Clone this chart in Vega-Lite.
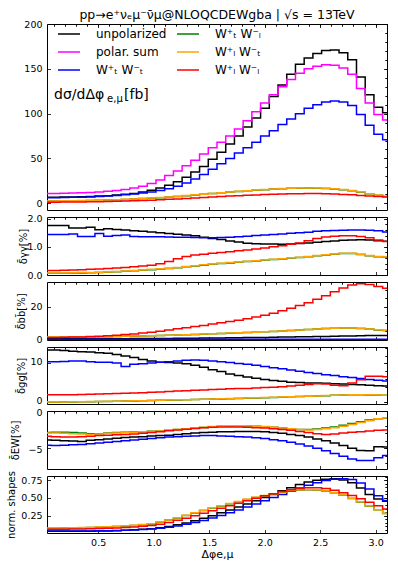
{
"$schema": "https://vega.github.io/schema/vega-lite/v6.json",
"padding": {"left": 5, "top": 8, "right": 10, "bottom": 5},
"spacing": 7,
"bounds": "flush",
"resolve": {"scale": {"color": "independent"}},
"config": {
  "font": "DejaVu Sans",
  "view": {"stroke": "#000", "strokeWidth": 1},
  "axis": {"domain": false, "grid": false, "tickColor": "#000", "tickWidth": 0.8, "labelColor": "#000", "labelFont": "DejaVu Sans", "labelFontSize": 9.5, "labelFlush": false, "labelOverlap": false, "titleFont": "DejaVu Sans", "titleFontSize": 10, "titleFontWeight": "normal", "titleColor": "#000", "labelPadding": 8.5},
  "line": {"interpolate": "step", "strokeWidth": 1.5, "clip": true}
},
"datasets": {
"m": [
{"x":0.0393,"a":6.7,"b":10.9,"c":6.2,"d":2.4,"e":2.5,"f":1.2},
{"x":0.1178,"a":6.8,"b":11.0,"c":6.3,"d":2.5,"e":2.6,"f":1.2},
{"x":0.1963,"a":6.9,"b":11.2,"c":6.4,"d":2.6,"e":2.7,"f":1.3},
{"x":0.2749,"a":7.1,"b":11.4,"c":6.6,"d":2.7,"e":2.8,"f":1.4},
{"x":0.3534,"a":7.3,"b":11.7,"c":6.8,"d":2.9,"e":3.0,"f":1.5},
{"x":0.4320,"a":7.6,"b":12.1,"c":7.1,"d":3.1,"e":3.2,"f":1.6},
{"x":0.5105,"a":8.0,"b":12.7,"c":7.5,"d":3.3,"e":3.4,"f":1.8},
{"x":0.5890,"a":8.5,"b":13.4,"c":8.0,"d":3.6,"e":3.7,"f":2.0},
{"x":0.6676,"a":9.2,"b":14.3,"c":8.6,"d":3.9,"e":4.0,"f":2.2},
{"x":0.7461,"a":10.0,"b":15.5,"c":9.4,"d":4.3,"e":4.4,"f":2.5},
{"x":0.8247,"a":11.0,"b":17.0,"c":10.3,"d":4.7,"e":4.8,"f":2.8},
{"x":0.9032,"a":12.5,"b":19.0,"c":11.4,"d":5.2,"e":5.3,"f":3.1},
{"x":0.9817,"a":14.5,"b":22.0,"c":12.7,"d":5.7,"e":5.8,"f":3.5},
{"x":1.0603,"a":17.0,"b":26.0,"c":14.3,"d":6.3,"e":6.4,"f":3.9},
{"x":1.1388,"a":20.0,"b":31.0,"c":16.3,"d":7.0,"e":7.1,"f":4.4},
{"x":1.2174,"a":24.0,"b":36.0,"c":19.0,"d":7.7,"e":7.8,"f":4.9},
{"x":1.2959,"a":29.0,"b":42.0,"c":22.5,"d":8.5,"e":8.6,"f":5.4},
{"x":1.3744,"a":35.0,"b":48.0,"c":27.0,"d":9.3,"e":9.4,"f":5.9},
{"x":1.4530,"a":41.0,"b":55.0,"c":32.0,"d":10.1,"e":10.2,"f":6.5},
{"x":1.5315,"a":49.0,"b":62.0,"c":38.0,"d":10.9,"e":11.0,"f":7.0},
{"x":1.6101,"a":57,"b":68,"c":44,"d":11.7,"e":11.8,"f":7.5},
{"x":1.6886,"a":66,"b":75,"c":50,"d":12.5,"e":12.6,"f":8.0},
{"x":1.7671,"a":75,"b":83,"c":56,"d":13.2,"e":13.3,"f":8.5},
{"x":1.8457,"a":85,"b":92,"c":62,"d":13.9,"e":14.0,"f":8.9},
{"x":1.9242,"a":95,"b":102,"c":68,"d":14.6,"e":14.7,"f":9.3},
{"x":2.0028,"a":106,"b":112,"c":75,"d":15.2,"e":15.3,"f":9.7},
{"x":2.0813,"a":119,"b":121,"c":81,"d":15.8,"e":15.9,"f":10.0},
{"x":2.1598,"a":132,"b":130,"c":88,"d":16.3,"e":16.4,"f":10.3},
{"x":2.2384,"a":144,"b":138,"c":94,"d":16.7,"e":16.8,"f":10.5},
{"x":2.3169,"a":155,"b":145,"c":100,"d":16.9,"e":17.0,"f":10.7},
{"x":2.3955,"a":162,"b":150,"c":106,"d":17.0,"e":17.1,"f":10.8},
{"x":2.4740,"a":167,"b":153,"c":110,"d":16.9,"e":17.0,"f":10.8},
{"x":2.5525,"a":170.5,"b":154.5,"c":113,"d":16.6,"e":16.7,"f":10.6},
{"x":2.6311,"a":171,"b":154,"c":114,"d":16.0,"e":16.1,"f":10.3},
{"x":2.7096,"a":168,"b":151,"c":113,"d":15.2,"e":15.3,"f":9.9},
{"x":2.7882,"a":160,"b":144,"c":109,"d":14.1,"e":14.2,"f":9.4},
{"x":2.8667,"a":141,"b":128,"c":99,"d":12.7,"e":12.8,"f":8.8},
{"x":2.9452,"a":121,"b":112,"c":87,"d":10.5,"e":10.6,"f":8.1},
{"x":3.0238,"a":107,"b":99,"c":77,"d":8.9,"e":9.0,"f":7.5},
{"x":3.1023,"a":101,"b":93,"c":71,"d":7.7,"e":7.8,"f":7.0}
],
"g": [
{"x":0.0393,"a":1.76,"c":1.44,"d":0.06,"e":0.07,"f":0.16},
{"x":0.1178,"a":1.76,"c":1.44,"d":0.06,"e":0.07,"f":0.16},
{"x":0.1963,"a":1.76,"c":1.44,"d":0.065,"e":0.075,"f":0.17},
{"x":0.2749,"a":1.67,"c":1.46,"d":0.07,"e":0.08,"f":0.18},
{"x":0.3534,"a":1.67,"c":1.37,"d":0.075,"e":0.085,"f":0.19},
{"x":0.4320,"a":1.70,"c":1.37,"d":0.08,"e":0.09,"f":0.20},
{"x":0.5105,"a":1.61,"c":1.47,"d":0.09,"e":0.10,"f":0.21},
{"x":0.5890,"a":1.64,"c":1.38,"d":0.10,"e":0.11,"f":0.23},
{"x":0.6676,"a":1.62,"c":1.40,"d":0.115,"e":0.125,"f":0.25},
{"x":0.7461,"a":1.60,"c":1.42,"d":0.13,"e":0.14,"f":0.27},
{"x":0.8247,"a":1.57,"c":1.37,"d":0.15,"e":0.16,"f":0.29},
{"x":0.9032,"a":1.55,"c":1.36,"d":0.17,"e":0.18,"f":0.32},
{"x":0.9817,"a":1.53,"c":1.36,"d":0.19,"e":0.20,"f":0.35},
{"x":1.0603,"a":1.50,"c":1.36,"d":0.21,"e":0.22,"f":0.40},
{"x":1.1388,"a":1.47,"c":1.35,"d":0.23,"e":0.24,"f":0.48},
{"x":1.2174,"a":1.45,"c":1.34,"d":0.26,"e":0.27,"f":0.58},
{"x":1.2959,"a":1.42,"c":1.34,"d":0.29,"e":0.30,"f":0.66},
{"x":1.3744,"a":1.39,"c":1.33,"d":0.32,"e":0.33,"f":0.71},
{"x":1.4530,"a":1.34,"c":1.32,"d":0.35,"e":0.36,"f":0.74},
{"x":1.5315,"a":1.30,"c":1.32,"d":0.38,"e":0.39,"f":0.77},
{"x":1.6101,"a":1.26,"c":1.33,"d":0.41,"e":0.42,"f":0.80},
{"x":1.6886,"a":1.21,"c":1.34,"d":0.43,"e":0.44,"f":0.83},
{"x":1.7671,"a":1.17,"c":1.36,"d":0.45,"e":0.46,"f":0.86},
{"x":1.8457,"a":1.13,"c":1.38,"d":0.48,"e":0.49,"f":0.89},
{"x":1.9242,"a":1.11,"c":1.40,"d":0.50,"e":0.51,"f":0.92},
{"x":2.0028,"a":1.10,"c":1.42,"d":0.53,"e":0.54,"f":0.96},
{"x":2.0813,"a":1.10,"c":1.44,"d":0.55,"e":0.56,"f":1.00},
{"x":2.1598,"a":1.09,"c":1.46,"d":0.57,"e":0.58,"f":1.04},
{"x":2.2384,"a":1.10,"c":1.48,"d":0.60,"e":0.61,"f":1.09},
{"x":2.3169,"a":1.12,"c":1.50,"d":0.62,"e":0.63,"f":1.14},
{"x":2.3955,"a":1.14,"c":1.52,"d":0.65,"e":0.66,"f":1.22},
{"x":2.4740,"a":1.16,"c":1.55,"d":0.68,"e":0.69,"f":1.30},
{"x":2.5525,"a":1.19,"c":1.57,"d":0.71,"e":0.72,"f":1.35},
{"x":2.6311,"a":1.21,"c":1.58,"d":0.74,"e":0.75,"f":1.38},
{"x":2.7096,"a":1.23,"c":1.59,"d":0.76,"e":0.77,"f":1.39},
{"x":2.7882,"a":1.24,"c":1.60,"d":0.76,"e":0.77,"f":1.39},
{"x":2.8667,"a":1.25,"c":1.60,"d":0.73,"e":0.74,"f":1.37},
{"x":2.9452,"a":1.24,"c":1.59,"d":0.68,"e":0.69,"f":1.32},
{"x":3.0238,"a":1.22,"c":1.57,"d":0.65,"e":0.66,"f":1.24},
{"x":3.1023,"a":1.20,"c":1.53,"d":0.63,"e":0.64,"f":1.19}
],
"bb": [
{"x":0.0393,"a":0.3,"c":0.12,"d":1.35,"e":1.4,"f":1.2},
{"x":0.1178,"a":0.3,"c":0.12,"d":1.35,"e":1.4,"f":1.2},
{"x":0.1963,"a":0.31,"c":0.12,"d":1.35,"e":1.4,"f":1.3},
{"x":0.2749,"a":0.32,"c":0.12,"d":1.4,"e":1.45,"f":1.4},
{"x":0.3534,"a":0.33,"c":0.12,"d":1.45,"e":1.5,"f":1.5},
{"x":0.4320,"a":0.35,"c":0.11,"d":1.5,"e":1.55,"f":1.7},
{"x":0.5105,"a":0.37,"c":0.11,"d":1.55,"e":1.6,"f":1.9},
{"x":0.5890,"a":0.39,"c":0.11,"d":1.65,"e":1.7,"f":2.2},
{"x":0.6676,"a":0.41,"c":0.11,"d":1.75,"e":1.8,"f":2.5},
{"x":0.7461,"a":0.43,"c":0.11,"d":1.85,"e":1.9,"f":2.9},
{"x":0.8247,"a":0.45,"c":0.1,"d":1.95,"e":2.0,"f":3.3},
{"x":0.9032,"a":0.48,"c":0.1,"d":2.05,"e":2.1,"f":3.8},
{"x":0.9817,"a":0.51,"c":0.1,"d":2.2,"e":2.25,"f":4.4},
{"x":1.0603,"a":0.54,"c":0.1,"d":2.35,"e":2.4,"f":5.0},
{"x":1.1388,"a":0.57,"c":0.1,"d":2.5,"e":2.55,"f":5.7},
{"x":1.2174,"a":0.6,"c":0.09,"d":2.65,"e":2.7,"f":6.4},
{"x":1.2959,"a":0.65,"c":0.09,"d":2.8,"e":2.85,"f":7.1},
{"x":1.3744,"a":0.7,"c":0.09,"d":2.95,"e":3.0,"f":7.8},
{"x":1.4530,"a":0.75,"c":0.09,"d":3.15,"e":3.2,"f":8.5},
{"x":1.5315,"a":0.8,"c":0.09,"d":3.35,"e":3.4,"f":9.3},
{"x":1.6101,"a":0.85,"c":0.08,"d":3.55,"e":3.6,"f":10.1},
{"x":1.6886,"a":0.92,"c":0.08,"d":3.75,"e":3.8,"f":10.9},
{"x":1.7671,"a":0.99,"c":0.08,"d":3.95,"e":4.0,"f":11.7},
{"x":1.8457,"a":1.06,"c":0.08,"d":4.15,"e":4.2,"f":12.6},
{"x":1.9242,"a":1.13,"c":0.08,"d":4.35,"e":4.4,"f":13.6},
{"x":2.0028,"a":1.2,"c":0.07,"d":4.6,"e":4.65,"f":14.7},
{"x":2.0813,"a":1.28,"c":0.07,"d":4.85,"e":4.9,"f":16.0},
{"x":2.1598,"a":1.36,"c":0.07,"d":5.1,"e":5.15,"f":17.4},
{"x":2.2384,"a":1.44,"c":0.07,"d":5.35,"e":5.4,"f":19.0},
{"x":2.3169,"a":1.52,"c":0.07,"d":5.65,"e":5.7,"f":20.6},
{"x":2.3955,"a":1.6,"c":0.06,"d":5.95,"e":6.0,"f":22.4},
{"x":2.4740,"a":1.7,"c":0.06,"d":6.25,"e":6.3,"f":24.4},
{"x":2.5525,"a":1.8,"c":0.06,"d":6.55,"e":6.6,"f":26.6},
{"x":2.6311,"a":1.9,"c":0.06,"d":6.75,"e":6.8,"f":29.0},
{"x":2.7096,"a":2.0,"c":0.06,"d":6.85,"e":6.9,"f":31.3},
{"x":2.7882,"a":2.1,"c":0.05,"d":6.85,"e":6.9,"f":33.2},
{"x":2.8667,"a":2.2,"c":0.05,"d":6.65,"e":6.7,"f":34.0},
{"x":2.9452,"a":2.3,"c":0.05,"d":6.25,"e":6.3,"f":33.5},
{"x":3.0238,"a":2.35,"c":0.05,"d":5.75,"e":5.8,"f":32.2},
{"x":3.1023,"a":2.4,"c":0.05,"d":5.45,"e":5.5,"f":31.2}
],
"q": [
{"x":0.0393,"a":13.4,"c":10.4,"d":0.07,"e":0.1,"f":2.0},
{"x":0.1178,"a":13.4,"c":10.4,"d":0.07,"e":0.1,"f":2.0},
{"x":0.1963,"a":13.3,"c":10.5,"d":0.09,"e":0.12,"f":2.0},
{"x":0.2749,"a":13.1,"c":10.6,"d":0.12,"e":0.15,"f":2.0},
{"x":0.3534,"a":13.0,"c":10.6,"d":0.15,"e":0.18,"f":2.05},
{"x":0.4320,"a":12.9,"c":10.4,"d":0.18,"e":0.21,"f":2.1},
{"x":0.5105,"a":12.7,"c":10.3,"d":0.22,"e":0.25,"f":2.15},
{"x":0.5890,"a":12.6,"c":10.3,"d":0.26,"e":0.29,"f":2.2},
{"x":0.6676,"a":12.3,"c":10.1,"d":0.3,"e":0.33,"f":2.3},
{"x":0.7461,"a":11.9,"c":9.2,"d":0.34,"e":0.37,"f":2.35},
{"x":0.8247,"a":11.5,"c":9.8,"d":0.38,"e":0.41,"f":2.4},
{"x":0.9032,"a":11.0,"c":9.9,"d":0.43,"e":0.46,"f":2.5},
{"x":0.9817,"a":10.6,"c":10.1,"d":0.48,"e":0.51,"f":2.6},
{"x":1.0603,"a":10.3,"c":10.3,"d":0.53,"e":0.56,"f":2.7},
{"x":1.1388,"a":10.2,"c":10.4,"d":0.58,"e":0.61,"f":2.8},
{"x":1.2174,"a":10.1,"c":10.6,"d":0.63,"e":0.66,"f":2.9},
{"x":1.2959,"a":9.9,"c":10.8,"d":0.68,"e":0.71,"f":3.0},
{"x":1.3744,"a":9.5,"c":10.9,"d":0.74,"e":0.77,"f":3.1},
{"x":1.4530,"a":9.0,"c":10.8,"d":0.79,"e":0.82,"f":3.2},
{"x":1.5315,"a":8.4,"c":10.6,"d":0.85,"e":0.88,"f":3.3},
{"x":1.6101,"a":7.9,"c":10.4,"d":0.91,"e":0.94,"f":3.4},
{"x":1.6886,"a":7.3,"c":10.2,"d":0.97,"e":1.0,"f":3.5},
{"x":1.7671,"a":6.9,"c":10.0,"d":1.03,"e":1.06,"f":3.55},
{"x":1.8457,"a":6.5,"c":9.8,"d":1.09,"e":1.12,"f":3.6},
{"x":1.9242,"a":6.2,"c":9.5,"d":1.15,"e":1.18,"f":3.7},
{"x":2.0028,"a":5.9,"c":9.2,"d":1.22,"e":1.25,"f":3.8},
{"x":2.0813,"a":5.6,"c":8.9,"d":1.29,"e":1.32,"f":3.9},
{"x":2.1598,"a":5.4,"c":8.6,"d":1.36,"e":1.39,"f":4.0},
{"x":2.2384,"a":5.2,"c":8.3,"d":1.43,"e":1.46,"f":4.2},
{"x":2.3169,"a":5.1,"c":8.0,"d":1.5,"e":1.53,"f":4.4},
{"x":2.3955,"a":5.0,"c":7.7,"d":1.57,"e":1.6,"f":4.6},
{"x":2.4740,"a":4.95,"c":7.4,"d":1.65,"e":1.68,"f":4.8},
{"x":2.5525,"a":4.9,"c":7.1,"d":1.73,"e":1.76,"f":4.7},
{"x":2.6311,"a":4.8,"c":6.9,"d":1.81,"e":1.84,"f":4.4},
{"x":2.7096,"a":4.7,"c":6.6,"d":1.89,"e":1.92,"f":4.3},
{"x":2.7882,"a":4.6,"c":6.4,"d":1.97,"e":2.0,"f":5.0},
{"x":2.8667,"a":4.5,"c":6.1,"d":1.97,"e":2.0,"f":5.8},
{"x":2.9452,"a":4.4,"c":5.9,"d":1.92,"e":1.95,"f":6.7},
{"x":3.0238,"a":4.3,"c":5.7,"d":1.87,"e":1.9,"f":6.7},
{"x":3.1023,"a":4.2,"c":5.5,"d":1.82,"e":1.85,"f":6.6}
],
"w": [
{"x":0.0393,"a":-3.9,"c":-4.6,"d":-2.9,"e":-2.95,"f":-3.4},
{"x":0.1178,"a":-3.95,"c":-4.65,"d":-2.85,"e":-2.95,"f":-3.45},
{"x":0.1963,"a":-4.0,"c":-4.6,"d":-2.85,"e":-3.0,"f":-3.5},
{"x":0.2749,"a":-4.05,"c":-4.55,"d":-2.9,"e":-3.05,"f":-3.5},
{"x":0.3534,"a":-4.1,"c":-4.5,"d":-2.95,"e":-3.1,"f":-3.45},
{"x":0.4320,"a":-3.95,"c":-4.4,"d":-3.05,"e":-3.15,"f":-3.4},
{"x":0.5105,"a":-3.85,"c":-4.3,"d":-3.05,"e":-3.1,"f":-3.3},
{"x":0.5890,"a":-3.75,"c":-4.2,"d":-2.95,"e":-3.0,"f":-3.25},
{"x":0.6676,"a":-3.65,"c":-4.1,"d":-2.9,"e":-2.95,"f":-3.2},
{"x":0.7461,"a":-3.55,"c":-4.0,"d":-2.85,"e":-2.9,"f":-3.15},
{"x":0.8247,"a":-3.5,"c":-3.9,"d":-2.82,"e":-2.85,"f":-3.1},
{"x":0.9032,"a":-3.45,"c":-3.8,"d":-2.78,"e":-2.8,"f":-3.0},
{"x":0.9817,"a":-3.35,"c":-3.7,"d":-2.72,"e":-2.75,"f":-2.9},
{"x":1.0603,"a":-3.3,"c":-3.6,"d":-2.68,"e":-2.7,"f":-2.8},
{"x":1.1388,"a":-3.25,"c":-3.5,"d":-2.6,"e":-2.6,"f":-2.65},
{"x":1.2174,"a":-3.15,"c":-3.45,"d":-2.5,"e":-2.5,"f":-2.55},
{"x":1.2959,"a":-3.05,"c":-3.4,"d":-2.42,"e":-2.4,"f":-2.45},
{"x":1.3744,"a":-2.95,"c":-3.35,"d":-2.32,"e":-2.3,"f":-2.35},
{"x":1.4530,"a":-2.9,"c":-3.3,"d":-2.22,"e":-2.2,"f":-2.25},
{"x":1.5315,"a":-2.85,"c":-3.3,"d":-2.12,"e":-2.1,"f":-2.2},
{"x":1.6101,"a":-2.8,"c":-3.35,"d":-2.06,"e":-2.05,"f":-2.15},
{"x":1.6886,"a":-2.78,"c":-3.4,"d":-2.02,"e":-2.0,"f":-2.15},
{"x":1.7671,"a":-2.76,"c":-3.45,"d":-2.0,"e":-1.98,"f":-2.15},
{"x":1.8457,"a":-2.75,"c":-3.5,"d":-2.02,"e":-2.0,"f":-2.2},
{"x":1.9242,"a":-2.75,"c":-3.6,"d":-2.06,"e":-2.05,"f":-2.25},
{"x":2.0028,"a":-2.8,"c":-3.7,"d":-2.12,"e":-2.1,"f":-2.3},
{"x":2.0813,"a":-2.9,"c":-3.85,"d":-2.2,"e":-2.2,"f":-2.4},
{"x":2.1598,"a":-3.0,"c":-4.0,"d":-2.3,"e":-2.3,"f":-2.5},
{"x":2.2384,"a":-3.15,"c":-4.2,"d":-2.4,"e":-2.4,"f":-2.6},
{"x":2.3169,"a":-3.3,"c":-4.45,"d":-2.48,"e":-2.5,"f":-2.75},
{"x":2.3955,"a":-3.5,"c":-4.7,"d":-2.5,"e":-2.55,"f":-2.9},
{"x":2.4740,"a":-3.75,"c":-5.0,"d":-2.42,"e":-2.5,"f":-3.05},
{"x":2.5525,"a":-4.0,"c":-5.35,"d":-2.3,"e":-2.4,"f":-3.15},
{"x":2.6311,"a":-4.3,"c":-5.7,"d":-2.15,"e":-2.25,"f":-3.1},
{"x":2.7096,"a":-4.65,"c":-6.1,"d":-1.92,"e":-2.05,"f":-2.95},
{"x":2.7882,"a":-5.0,"c":-6.45,"d":-1.68,"e":-1.8,"f":-2.85},
{"x":2.8667,"a":-5.3,"c":-6.65,"d":-1.45,"e":-1.55,"f":-2.8},
{"x":2.9452,"a":-5.35,"c":-6.65,"d":-1.22,"e":-1.3,"f":-2.7},
{"x":3.0238,"a":-4.8,"c":-6.3,"d":-1.05,"e":-1.05,"f":-2.6},
{"x":3.1023,"a":-4.85,"c":-6.0,"d":-0.97,"e":-0.95,"f":-2.55}
],
"n": [
{"x":0.0393,"a":0.028,"c":0.032,"d":0.072,"e":0.075,"f":0.058},
{"x":0.1178,"a":0.028,"c":0.032,"d":0.073,"e":0.076,"f":0.058},
{"x":0.1963,"a":0.029,"c":0.033,"d":0.074,"e":0.077,"f":0.059},
{"x":0.2749,"a":0.029,"c":0.033,"d":0.076,"e":0.079,"f":0.06},
{"x":0.3534,"a":0.030,"c":0.034,"d":0.078,"e":0.081,"f":0.062},
{"x":0.4320,"a":0.031,"c":0.035,"d":0.081,"e":0.084,"f":0.064},
{"x":0.5105,"a":0.033,"c":0.036,"d":0.085,"e":0.088,"f":0.067},
{"x":0.5890,"a":0.035,"c":0.038,"d":0.09,"e":0.093,"f":0.071},
{"x":0.6676,"a":0.038,"c":0.04,"d":0.096,"e":0.099,"f":0.076},
{"x":0.7461,"a":0.043,"c":0.043,"d":0.103,"e":0.106,"f":0.082},
{"x":0.8247,"a":0.05,"c":0.047,"d":0.111,"e":0.114,"f":0.09},
{"x":0.9032,"a":0.057,"c":0.053,"d":0.121,"e":0.124,"f":0.099},
{"x":0.9817,"a":0.066,"c":0.061,"d":0.132,"e":0.135,"f":0.11},
{"x":1.0603,"a":0.08,"c":0.072,"d":0.157,"e":0.16,"f":0.13},
{"x":1.1388,"a":0.098,"c":0.087,"d":0.187,"e":0.19,"f":0.155},
{"x":1.2174,"a":0.12,"c":0.105,"d":0.217,"e":0.22,"f":0.185},
{"x":1.2959,"a":0.147,"c":0.127,"d":0.252,"e":0.255,"f":0.215},
{"x":1.3744,"a":0.178,"c":0.153,"d":0.287,"e":0.29,"f":0.25},
{"x":1.4530,"a":0.213,"c":0.183,"d":0.322,"e":0.325,"f":0.285},
{"x":1.5315,"a":0.25,"c":0.216,"d":0.357,"e":0.36,"f":0.32},
{"x":1.6101,"a":0.29,"c":0.252,"d":0.387,"e":0.39,"f":0.355},
{"x":1.6886,"a":0.33,"c":0.29,"d":0.417,"e":0.42,"f":0.39},
{"x":1.7671,"a":0.372,"c":0.33,"d":0.447,"e":0.45,"f":0.425},
{"x":1.8457,"a":0.415,"c":0.372,"d":0.477,"e":0.48,"f":0.46},
{"x":1.9242,"a":0.46,"c":0.415,"d":0.507,"e":0.51,"f":0.495},
{"x":2.0028,"a":0.505,"c":0.46,"d":0.532,"e":0.535,"f":0.53},
{"x":2.0813,"a":0.55,"c":0.505,"d":0.557,"e":0.56,"f":0.56},
{"x":2.1598,"a":0.6,"c":0.55,"d":0.582,"e":0.585,"f":0.59},
{"x":2.2384,"a":0.645,"c":0.595,"d":0.602,"e":0.605,"f":0.615},
{"x":2.3169,"a":0.69,"c":0.64,"d":0.612,"e":0.615,"f":0.635},
{"x":2.3955,"a":0.725,"c":0.68,"d":0.617,"e":0.62,"f":0.645},
{"x":2.4740,"a":0.75,"c":0.715,"d":0.612,"e":0.615,"f":0.645},
{"x":2.5525,"a":0.765,"c":0.745,"d":0.597,"e":0.6,"f":0.635},
{"x":2.6311,"a":0.77,"c":0.765,"d":0.572,"e":0.575,"f":0.61},
{"x":2.7096,"a":0.755,"c":0.77,"d":0.537,"e":0.54,"f":0.575},
{"x":2.7882,"a":0.715,"c":0.76,"d":0.492,"e":0.495,"f":0.535},
{"x":2.8667,"a":0.64,"c":0.71,"d":0.442,"e":0.445,"f":0.49},
{"x":2.9452,"a":0.55,"c":0.625,"d":0.387,"e":0.39,"f":0.44},
{"x":3.0238,"a":0.485,"c":0.53,"d":0.332,"e":0.335,"f":0.39},
{"x":3.1023,"a":0.455,"c":0.465,"d":0.282,"e":0.285,"f":0.345}
]
},
"vconcat": [
{
 "width": 340, "height": 186,
 "title": {"text": "pp→e⁺νₑμ⁻ν̄μ@NLOQCDEWgba | √s = 13TeV", "fontSize": 12.5, "fontWeight": "normal", "font": "DejaVu Sans", "offset": -2.5, "color": "#000"},
 "layer": [
  {"data": {"name": "m"}, "transform": [{"fold": ["a","b","c","d","e","f"], "as": ["s","v"]}],
   "mark": {"type": "line"},
   "encoding": {
    "x": {"field": "x", "type": "quantitative", "scale": {"domain": [0.0393, 3.1023], "nice": false, "zero": false}, "axis": {"values": [0.5,1,1.5,2,2.5,3], "labels": false, "title": null, "tickSize": -3.5}},
    "y": {"field": "v", "type": "quantitative", "scale": {"domain": [-7.5, 200], "nice": false, "zero": false}, "axis": {"values": [0,50,100,150,200], "title": null, "tickSize": -3.5}},
    "color": {"field": "s", "type": "nominal", "scale": {"domain": ["a","b","c","d","e","f"], "range": ["#000000","#ff00ff","#0000ff","#008000","#ffa500","#ff0000"]},
      "legend": {"orient": "none", "legendX": 10, "legendY": -2, "columns": 2, "title": null, "symbolType": "stroke", "symbolSize": 484, "symbolStrokeWidth": 1.8, "labelFontSize": 12, "labelFont": "DejaVu Sans", "labelColor": "#000", "labelOffset": 15, "columnPadding": 7, "rowPadding": -1.5,
        "labelExpr": "datum.label=='a'?'unpolarized':datum.label=='b'?'polar. sum':datum.label=='c'?'W⁺ₜ W⁻ₜ':datum.label=='d'?'W⁺ₜ W⁻ₗ':datum.label=='e'?'W⁺ₗ W⁻ₜ':'W⁺ₗ W⁻ₗ'"}}
   }},
  {"data": {"values": [{}]}, "mark": {"type": "point", "opacity": 0},
   "encoding": {
    "x": {"datum": 1, "type": "quantitative", "scale": {"domain": [0.0393, 3.1023], "nice": false, "zero": false}, "axis": {"values": [0.1,0.2,0.3,0.4,0.5,0.6,0.7,0.8,0.9,1,1.1,1.2,1.3,1.4,1.5,1.6,1.7,1.8,1.9,2,2.1,2.2,2.3,2.4,2.5,2.6,2.7,2.8,2.9,3,3.1], "labels": false, "title": null, "tickSize": -2}},
    "y": {"datum": 0, "type": "quantitative", "scale": {"domain": [-7.5, 200], "nice": false, "zero": false}, "axis": {"values": [0,10,20,30,40,50,60,70,80,90,100,110,120,130,140,150,160,170,180,190,200], "labels": false, "title": null, "tickSize": -2}}
   }},
  {"data": {"values": [{}]}, "mark": {"type": "point", "opacity": 0},
   "encoding": {
    "x": {"datum": 1, "type": "quantitative", "scale": {"domain": [0.0393, 3.1023], "nice": false, "zero": false}, "axis": {"orient": "top", "values": [0.5,1,1.5,2,2.5,3], "labels": false, "title": null, "tickSize": -3.5}},
    "y": {"datum": 0, "type": "quantitative", "scale": {"domain": [-7.5, 200], "nice": false, "zero": false}, "axis": {"orient": "right", "values": [0,50,100,150,200], "labels": false, "title": null, "tickSize": -3.5}}
   }},
  {"data": {"values": [{}]}, "mark": {"type": "point", "opacity": 0},
   "encoding": {
    "x": {"datum": 1, "type": "quantitative", "scale": {"domain": [0.0393, 3.1023], "nice": false, "zero": false}, "axis": {"orient": "top", "values": [0.1,0.2,0.3,0.4,0.5,0.6,0.7,0.8,0.9,1,1.1,1.2,1.3,1.4,1.5,1.6,1.7,1.8,1.9,2,2.1,2.2,2.3,2.4,2.5,2.6,2.7,2.8,2.9,3,3.1], "labels": false, "title": null, "tickSize": -2}},
    "y": {"datum": 0, "type": "quantitative", "scale": {"domain": [-7.5, 200], "nice": false, "zero": false}, "axis": {"orient": "right", "values": [0,10,20,30,40,50,60,70,80,90,100,110,120,130,140,150,160,170,180,190,200], "labels": false, "title": null, "tickSize": -2}}
   }},
  {"data": {"values": [{}]}, "mark": {"type": "text", "text": "dσ/dΔφ", "align": "left", "baseline": "middle", "fontSize": 14, "font": "DejaVu Sans", "color": "#000"},
   "encoding": {
    "x": {"datum": 0.103, "type": "quantitative", "scale": {"domain": [0.0393, 3.1023], "nice": false, "zero": false}, "axis": null},
    "y": {"datum": 121, "type": "quantitative", "scale": {"domain": [-7.5, 200], "nice": false, "zero": false}, "axis": null}
   }},
  {"data": {"values": [{}]}, "mark": {"type": "text", "text": "e,μ", "align": "left", "baseline": "middle", "fontSize": 10, "font": "DejaVu Sans", "color": "#000", "dx": 53, "dy": 4},
   "encoding": {
    "x": {"datum": 0.103, "type": "quantitative", "scale": {"domain": [0.0393, 3.1023], "nice": false, "zero": false}, "axis": null},
    "y": {"datum": 121, "type": "quantitative", "scale": {"domain": [-7.5, 200], "nice": false, "zero": false}, "axis": null}
   }},
  {"data": {"values": [{}]}, "mark": {"type": "text", "text": "[fb]", "align": "left", "baseline": "middle", "fontSize": 14, "font": "DejaVu Sans", "color": "#000", "dx": 70},
   "encoding": {
    "x": {"datum": 0.103, "type": "quantitative", "scale": {"domain": [0.0393, 3.1023], "nice": false, "zero": false}, "axis": null},
    "y": {"datum": 121, "type": "quantitative", "scale": {"domain": [-7.5, 200], "nice": false, "zero": false}, "axis": null}
   }}
 ],
 "resolve": {"axis": {"x": "independent", "y": "independent"}}
},
{
 "width": 340, "height": 58,
 "layer": [
  {"data": {"name": "g"}, "transform": [{"fold": ["a","c","d","e","f"], "as": ["s","v"]}],
   "mark": {"type": "line"},
   "encoding": {
    "x": {"field": "x", "type": "quantitative", "scale": {"domain": [0.0393, 3.1023], "nice": false, "zero": false}, "axis": {"values": [0.5,1,1.5,2,2.5,3], "labels": false, "title": null, "tickSize": -3.5}},
    "y": {"field": "v", "type": "quantitative", "scale": {"domain": [0, 2.06], "nice": false, "zero": false}, "axis": {"values": [0,1,2], "title": "δ̄γγ[%]", "titleX": -19, "titleAngle": 270, "titleBaseline": "bottom", "tickSize": -3.5}},
    "color": {"field": "s", "type": "nominal", "scale": {"domain": ["a","b","c","d","e","f"], "range": ["#000000","#ff00ff","#0000ff","#008000","#ffa500","#ff0000"]}, "legend": null}
   }},
  {"data": {"values": [{}]}, "mark": {"type": "point", "opacity": 0},
   "encoding": {
    "x": {"datum": 1, "type": "quantitative", "scale": {"domain": [0.0393, 3.1023], "nice": false, "zero": false}, "axis": {"values": [0.1,0.2,0.3,0.4,0.5,0.6,0.7,0.8,0.9,1,1.1,1.2,1.3,1.4,1.5,1.6,1.7,1.8,1.9,2,2.1,2.2,2.3,2.4,2.5,2.6,2.7,2.8,2.9,3,3.1], "labels": false, "title": null, "tickSize": -2}},
    "y": {"datum": 1, "type": "quantitative", "scale": {"domain": [0, 2.06], "nice": false, "zero": false}, "axis": {"values": [0,0.2,0.4,0.6,0.8,1,1.2,1.4,1.6,1.8,2], "labels": false, "title": null, "tickSize": -2}}
   }},
  {"data": {"values": [{}]}, "mark": {"type": "point", "opacity": 0},
   "encoding": {
    "x": {"datum": 1, "type": "quantitative", "scale": {"domain": [0.0393, 3.1023], "nice": false, "zero": false}, "axis": {"orient": "top", "values": [0.5,1,1.5,2,2.5,3], "labels": false, "title": null, "tickSize": -3.5}},
    "y": {"datum": 1, "type": "quantitative", "scale": {"domain": [0, 2.06], "nice": false, "zero": false}, "axis": {"orient": "right", "values": [0,1,2], "labels": false, "title": null, "tickSize": -3.5}}
   }},
  {"data": {"values": [{}]}, "mark": {"type": "point", "opacity": 0},
   "encoding": {
    "x": {"datum": 1, "type": "quantitative", "scale": {"domain": [0.0393, 3.1023], "nice": false, "zero": false}, "axis": {"orient": "top", "values": [0.1,0.2,0.3,0.4,0.5,0.6,0.7,0.8,0.9,1,1.1,1.2,1.3,1.4,1.5,1.6,1.7,1.8,1.9,2,2.1,2.2,2.3,2.4,2.5,2.6,2.7,2.8,2.9,3,3.1], "labels": false, "title": null, "tickSize": -2}},
    "y": {"datum": 1, "type": "quantitative", "scale": {"domain": [0, 2.06], "nice": false, "zero": false}, "axis": {"orient": "right", "values": [0,0.2,0.4,0.6,0.8,1,1.2,1.4,1.6,1.8,2], "labels": false, "title": null, "tickSize": -2}}
   }}
 ],
 "resolve": {"axis": {"x": "independent", "y": "independent"}}
},
{
 "width": 340, "height": 58,
 "layer": [
  {"data": {"name": "bb"}, "transform": [{"fold": ["a","c","d","e","f"], "as": ["s","v"]}],
   "mark": {"type": "line"},
   "encoding": {
    "x": {"field": "x", "type": "quantitative", "scale": {"domain": [0.0393, 3.1023], "nice": false, "zero": false}, "axis": {"values": [0.5,1,1.5,2,2.5,3], "labels": false, "title": null, "tickSize": -3.5}},
    "y": {"field": "v", "type": "quantitative", "scale": {"domain": [-0.4, 35], "nice": false, "zero": false}, "axis": {"values": [0,20], "title": "δ̄bb̄[%]", "titleX": -21, "titleAngle": 270, "titleBaseline": "bottom", "tickSize": -3.5}},
    "color": {"field": "s", "type": "nominal", "scale": {"domain": ["a","b","c","d","e","f"], "range": ["#000000","#ff00ff","#0000ff","#008000","#ffa500","#ff0000"]}, "legend": null}
   }},
  {"data": {"values": [{}]}, "mark": {"type": "point", "opacity": 0},
   "encoding": {
    "x": {"datum": 1, "type": "quantitative", "scale": {"domain": [0.0393, 3.1023], "nice": false, "zero": false}, "axis": {"values": [0.1,0.2,0.3,0.4,0.5,0.6,0.7,0.8,0.9,1,1.1,1.2,1.3,1.4,1.5,1.6,1.7,1.8,1.9,2,2.1,2.2,2.3,2.4,2.5,2.6,2.7,2.8,2.9,3,3.1], "labels": false, "title": null, "tickSize": -2}},
    "y": {"datum": 1, "type": "quantitative", "scale": {"domain": [-0.4, 35], "nice": false, "zero": false}, "axis": {"values": [0,5,10,15,20,25,30,35], "labels": false, "title": null, "tickSize": -2}}
   }},
  {"data": {"values": [{}]}, "mark": {"type": "point", "opacity": 0},
   "encoding": {
    "x": {"datum": 1, "type": "quantitative", "scale": {"domain": [0.0393, 3.1023], "nice": false, "zero": false}, "axis": {"orient": "top", "values": [0.5,1,1.5,2,2.5,3], "labels": false, "title": null, "tickSize": -3.5}},
    "y": {"datum": 1, "type": "quantitative", "scale": {"domain": [-0.4, 35], "nice": false, "zero": false}, "axis": {"orient": "right", "values": [0,20], "labels": false, "title": null, "tickSize": -3.5}}
   }},
  {"data": {"values": [{}]}, "mark": {"type": "point", "opacity": 0},
   "encoding": {
    "x": {"datum": 1, "type": "quantitative", "scale": {"domain": [0.0393, 3.1023], "nice": false, "zero": false}, "axis": {"orient": "top", "values": [0.1,0.2,0.3,0.4,0.5,0.6,0.7,0.8,0.9,1,1.1,1.2,1.3,1.4,1.5,1.6,1.7,1.8,1.9,2,2.1,2.2,2.3,2.4,2.5,2.6,2.7,2.8,2.9,3,3.1], "labels": false, "title": null, "tickSize": -2}},
    "y": {"datum": 1, "type": "quantitative", "scale": {"domain": [-0.4, 35], "nice": false, "zero": false}, "axis": {"orient": "right", "values": [0,5,10,15,20,25,30,35], "labels": false, "title": null, "tickSize": -2}}
   }}
 ],
 "resolve": {"axis": {"x": "independent", "y": "independent"}}
},
{
 "width": 340, "height": 57,
 "layer": [
  {"data": {"name": "q"}, "transform": [{"fold": ["a","c","d","e","f"], "as": ["s","v"]}],
   "mark": {"type": "line"},
   "encoding": {
    "x": {"field": "x", "type": "quantitative", "scale": {"domain": [0.0393, 3.1023], "nice": false, "zero": false}, "axis": {"values": [0.5,1,1.5,2,2.5,3], "labels": false, "title": null, "tickSize": -3.5}},
    "y": {"field": "v", "type": "quantitative", "scale": {"domain": [-0.4, 14.2], "nice": false, "zero": false}, "axis": {"values": [0,10], "title": "δ̄gg[%]", "titleX": -21, "titleAngle": 270, "titleBaseline": "bottom", "tickSize": -3.5, "labelOffset": -1.5}},
    "color": {"field": "s", "type": "nominal", "scale": {"domain": ["a","b","c","d","e","f"], "range": ["#000000","#ff00ff","#0000ff","#008000","#ffa500","#ff0000"]}, "legend": null}
   }},
  {"data": {"values": [{}]}, "mark": {"type": "point", "opacity": 0},
   "encoding": {
    "x": {"datum": 1, "type": "quantitative", "scale": {"domain": [0.0393, 3.1023], "nice": false, "zero": false}, "axis": {"values": [0.1,0.2,0.3,0.4,0.5,0.6,0.7,0.8,0.9,1,1.1,1.2,1.3,1.4,1.5,1.6,1.7,1.8,1.9,2,2.1,2.2,2.3,2.4,2.5,2.6,2.7,2.8,2.9,3,3.1], "labels": false, "title": null, "tickSize": -2}},
    "y": {"datum": 1, "type": "quantitative", "scale": {"domain": [-0.4, 14.2], "nice": false, "zero": false}, "axis": {"values": [0,2,4,6,8,10,12,14], "labels": false, "title": null, "tickSize": -2}}
   }},
  {"data": {"values": [{}]}, "mark": {"type": "point", "opacity": 0},
   "encoding": {
    "x": {"datum": 1, "type": "quantitative", "scale": {"domain": [0.0393, 3.1023], "nice": false, "zero": false}, "axis": {"orient": "top", "values": [0.5,1,1.5,2,2.5,3], "labels": false, "title": null, "tickSize": -3.5}},
    "y": {"datum": 1, "type": "quantitative", "scale": {"domain": [-0.4, 14.2], "nice": false, "zero": false}, "axis": {"orient": "right", "values": [0,10], "labels": false, "title": null, "tickSize": -3.5}}
   }},
  {"data": {"values": [{}]}, "mark": {"type": "point", "opacity": 0},
   "encoding": {
    "x": {"datum": 1, "type": "quantitative", "scale": {"domain": [0.0393, 3.1023], "nice": false, "zero": false}, "axis": {"orient": "top", "values": [0.1,0.2,0.3,0.4,0.5,0.6,0.7,0.8,0.9,1,1.1,1.2,1.3,1.4,1.5,1.6,1.7,1.8,1.9,2,2.1,2.2,2.3,2.4,2.5,2.6,2.7,2.8,2.9,3,3.1], "labels": false, "title": null, "tickSize": -2}},
    "y": {"datum": 1, "type": "quantitative", "scale": {"domain": [-0.4, 14.2], "nice": false, "zero": false}, "axis": {"orient": "right", "values": [0,2,4,6,8,10,12,14], "labels": false, "title": null, "tickSize": -2}}
   }}
 ],
 "resolve": {"axis": {"x": "independent", "y": "independent"}}
},
{
 "width": 340, "height": 58,
 "layer": [
  {"data": {"name": "w"}, "transform": [{"fold": ["a","c","d","e","f"], "as": ["s","v"]}],
   "mark": {"type": "line"},
   "encoding": {
    "x": {"field": "x", "type": "quantitative", "scale": {"domain": [0.0393, 3.1023], "nice": false, "zero": false}, "axis": {"values": [0.5,1,1.5,2,2.5,3], "labels": false, "title": null, "tickSize": -3.5}},
    "y": {"field": "v", "type": "quantitative", "scale": {"domain": [-7.8, 0], "nice": false, "zero": false}, "axis": {"values": [0,-5], "title": "δ̄EW[%]", "titleX": -27, "titleAngle": 270, "titleBaseline": "bottom", "tickSize": -3.5, "labelOffset": 1.5}},
    "color": {"field": "s", "type": "nominal", "scale": {"domain": ["a","b","c","d","e","f"], "range": ["#000000","#ff00ff","#0000ff","#008000","#ffa500","#ff0000"]}, "legend": null}
   }},
  {"data": {"values": [{}]}, "mark": {"type": "point", "opacity": 0},
   "encoding": {
    "x": {"datum": 1, "type": "quantitative", "scale": {"domain": [0.0393, 3.1023], "nice": false, "zero": false}, "axis": {"values": [0.1,0.2,0.3,0.4,0.5,0.6,0.7,0.8,0.9,1,1.1,1.2,1.3,1.4,1.5,1.6,1.7,1.8,1.9,2,2.1,2.2,2.3,2.4,2.5,2.6,2.7,2.8,2.9,3,3.1], "labels": false, "title": null, "tickSize": -2}},
    "y": {"datum": -1, "type": "quantitative", "scale": {"domain": [-7.8, 0], "nice": false, "zero": false}, "axis": {"values": [0,-1,-2,-3,-4,-5,-6,-7], "labels": false, "title": null, "tickSize": -2}}
   }},
  {"data": {"values": [{}]}, "mark": {"type": "point", "opacity": 0},
   "encoding": {
    "x": {"datum": 1, "type": "quantitative", "scale": {"domain": [0.0393, 3.1023], "nice": false, "zero": false}, "axis": {"orient": "top", "values": [0.5,1,1.5,2,2.5,3], "labels": false, "title": null, "tickSize": -3.5}},
    "y": {"datum": -1, "type": "quantitative", "scale": {"domain": [-7.8, 0], "nice": false, "zero": false}, "axis": {"orient": "right", "values": [0,-5], "labels": false, "title": null, "tickSize": -3.5}}
   }},
  {"data": {"values": [{}]}, "mark": {"type": "point", "opacity": 0},
   "encoding": {
    "x": {"datum": 1, "type": "quantitative", "scale": {"domain": [0.0393, 3.1023], "nice": false, "zero": false}, "axis": {"orient": "top", "values": [0.1,0.2,0.3,0.4,0.5,0.6,0.7,0.8,0.9,1,1.1,1.2,1.3,1.4,1.5,1.6,1.7,1.8,1.9,2,2.1,2.2,2.3,2.4,2.5,2.6,2.7,2.8,2.9,3,3.1], "labels": false, "title": null, "tickSize": -2}},
    "y": {"datum": -1, "type": "quantitative", "scale": {"domain": [-7.8, 0], "nice": false, "zero": false}, "axis": {"orient": "right", "values": [0,-1,-2,-3,-4,-5,-6,-7], "labels": false, "title": null, "tickSize": -2}}
   }}
 ],
 "resolve": {"axis": {"x": "independent", "y": "independent"}}
},
{
 "width": 340, "height": 57,
 "layer": [
  {"data": {"name": "n"}, "transform": [{"fold": ["a","c","d","e","f"], "as": ["s","v"]}],
   "mark": {"type": "line"},
   "encoding": {
    "x": {"field": "x", "type": "quantitative", "scale": {"domain": [0.0393, 3.1023], "nice": false, "zero": false}, "axis": {"values": [0.5,1,1.5,2,2.5,3], "format": ".1f", "title": "Δφe,μ", "titleFontSize": 11, "titlePadding": 2, "labelPadding": 7.5, "tickSize": -3.5}},
    "y": {"field": "v", "type": "quantitative", "scale": {"domain": [0.005, 0.81], "nice": false, "zero": false}, "axis": {"values": [0.25,0.5,0.75], "format": ".2f", "title": "norm. shapes", "titleX": -31, "titleAngle": 270, "titleBaseline": "bottom", "tickSize": -3.5}},
    "color": {"field": "s", "type": "nominal", "scale": {"domain": ["a","b","c","d","e","f"], "range": ["#000000","#ff00ff","#0000ff","#008000","#ffa500","#ff0000"]}, "legend": null}
   }},
  {"data": {"values": [{}]}, "mark": {"type": "point", "opacity": 0},
   "encoding": {
    "x": {"datum": 1, "type": "quantitative", "scale": {"domain": [0.0393, 3.1023], "nice": false, "zero": false}, "axis": {"values": [0.1,0.2,0.3,0.4,0.5,0.6,0.7,0.8,0.9,1,1.1,1.2,1.3,1.4,1.5,1.6,1.7,1.8,1.9,2,2.1,2.2,2.3,2.4,2.5,2.6,2.7,2.8,2.9,3,3.1], "labels": false, "title": null, "tickSize": -2}},
    "y": {"datum": 0.5, "type": "quantitative", "scale": {"domain": [0.005, 0.81], "nice": false, "zero": false}, "axis": {"values": [0.05,0.1,0.15,0.2,0.25,0.3,0.35,0.4,0.45,0.5,0.55,0.6,0.65,0.7,0.75,0.8], "labels": false, "title": null, "tickSize": -2}}
   }},
  {"data": {"values": [{}]}, "mark": {"type": "point", "opacity": 0},
   "encoding": {
    "x": {"datum": 1, "type": "quantitative", "scale": {"domain": [0.0393, 3.1023], "nice": false, "zero": false}, "axis": {"orient": "top", "values": [0.5,1,1.5,2,2.5,3], "labels": false, "title": null, "tickSize": -3.5}},
    "y": {"datum": 0.5, "type": "quantitative", "scale": {"domain": [0.005, 0.81], "nice": false, "zero": false}, "axis": {"orient": "right", "values": [0.25,0.5,0.75], "labels": false, "title": null, "tickSize": -3.5}}
   }},
  {"data": {"values": [{}]}, "mark": {"type": "point", "opacity": 0},
   "encoding": {
    "x": {"datum": 1, "type": "quantitative", "scale": {"domain": [0.0393, 3.1023], "nice": false, "zero": false}, "axis": {"orient": "top", "values": [0.1,0.2,0.3,0.4,0.5,0.6,0.7,0.8,0.9,1,1.1,1.2,1.3,1.4,1.5,1.6,1.7,1.8,1.9,2,2.1,2.2,2.3,2.4,2.5,2.6,2.7,2.8,2.9,3,3.1], "labels": false, "title": null, "tickSize": -2}},
    "y": {"datum": 0.5, "type": "quantitative", "scale": {"domain": [0.005, 0.81], "nice": false, "zero": false}, "axis": {"orient": "right", "values": [0.05,0.1,0.15,0.2,0.25,0.3,0.35,0.4,0.45,0.5,0.55,0.6,0.65,0.7,0.75,0.8], "labels": false, "title": null, "tickSize": -2}}
   }}
 ],
 "resolve": {"axis": {"x": "independent", "y": "independent"}}
}
]
}
